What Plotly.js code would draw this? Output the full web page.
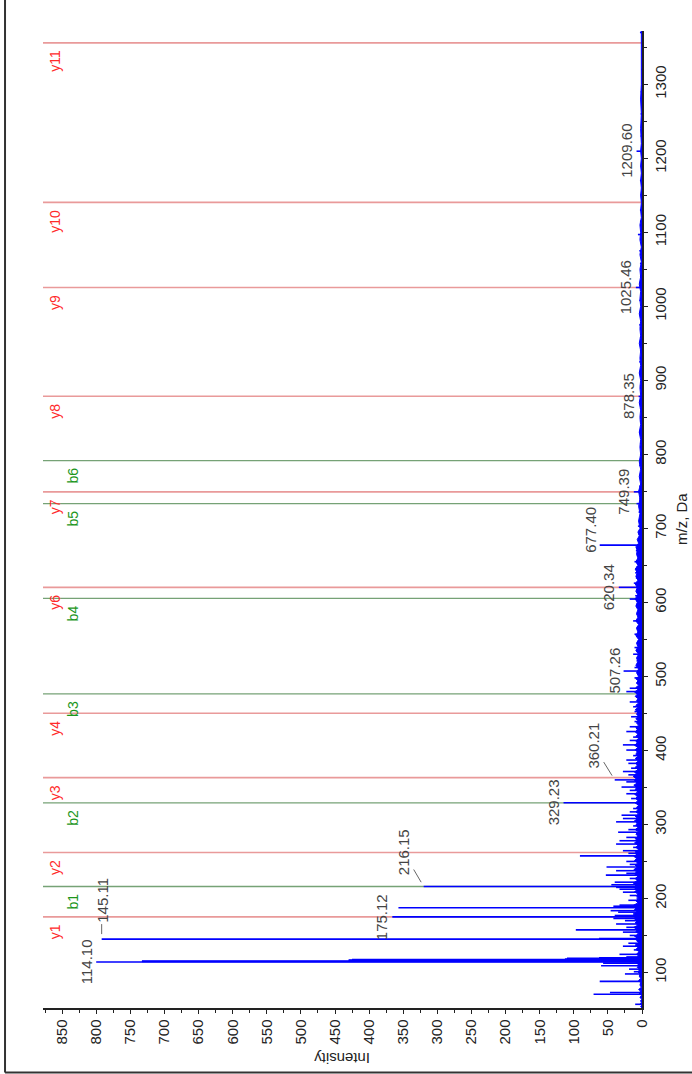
<!DOCTYPE html>
<html><head><meta charset="utf-8">
<script src="https://cdn.plot.ly/plotly-3.0.1.min.js"></script>
<style>html,body{margin:0;padding:0;background:#fff}#chart{width:692px;height:1074px}</style>
</head><body><div id="chart"></div>
<script>
// ---- data ----
const peakMz = [57, 70.5, 73, 88, 98, 101, 104.5, 109, 112.6, 114.10, 114.8, 115.5, 116.2, 116.9, 117.6, 118.3, 119, 119.8, 121, 124.5, 130.5, 135.5, 139.5, 145.11, 146.0, 150, 154.5, 157.5, 161, 165.5, 170, 173, 175.12, 177, 181.5, 183.5, 187.5, 189.5, 191, 197.5, 200.5, 204, 208.5, 212.5, 215, 216.15, 218.5, 222, 227, 231.5, 234, 237.5, 242.5, 246, 250, 257.5, 261, 264.5, 269, 273.5, 278, 282.5, 289.5, 293, 298, 303.5, 308, 312.5, 317, 321.5, 329.23, 335, 341.5, 346, 350.5, 357.5, 360.21, 367, 371.5, 376, 382.5, 387, 393, 400.5, 407.5, 413.5, 418, 425.5, 432, 439, 445.5, 452.5, 459, 465.5, 472, 479.5, 484, 491, 498, 507.26, 512, 521, 530, 539, 548, 557, 566, 575, 584, 593, 604.5, 609, 620.34, 626, 633, 640, 648, 655, 663, 670, 677.40, 684, 692, 703, 712, 722, 733.4, 740, 749.39, 757, 770, 785, 800, 815, 830, 845, 862, 878.35, 893, 910, 925, 940, 958, 975, 990, 1008, 1025.46, 1040, 1058, 1075, 1097, 1115, 1130, 1150, 1170, 1190, 1209.60, 1230, 1260, 1290, 1320, 1370];
const peakInt = [10, 71, 47, 62, 25, 12, 19, 60, 57, 800, 733, 733, 430, 430, 425, 113, 110, 63, 23, 33, 12, 28, 20, 792, 63, 18, 28, 97, 23, 38, 25, 42, 366, 40, 35, 46, 357, 42, 33, 20, 8, 18, 28, 33, 38, 320, 45, 40, 18, 53, 23, 38, 52, 18, 23, 91, 20, 28, 13, 38, 33, 23, 35, 20, 13, 38, 28, 30, 18, 13, 115, 16, 23, 18, 30, 23, 40, 20, 28, 16, 20, 23, 13, 23, 28, 18, 13, 23, 18, 11, 16, 11, 13, 18, 8, 23, 18, 8, 11, 27, 11, 8, 13, 11, 6, 11, 8, 13, 8, 6, 18, 10, 34, 12, 9, 10, 8, 11, 7, 9, 62, 6, 5, 6, 4, 5, 8, 4, 12, 4, 3, 4, 3, 3, 4, 3, 3, 5, 3, 3, 4, 3, 3, 4, 3, 4, 9, 3, 3, 4, 6, 3, 3, 2, 3, 2, 8, 2, 2, 2, 1, 3];

const noiseMz = [52, 54, 56, 57, 59, 62, 64, 66, 69, 72, 75, 77, 80, 83, 86, 89, 92, 95, 98, 101, 104, 107, 110, 113, 116, 119, 122, 125, 128, 131, 134, 137, 140, 143, 146, 149, 152, 155, 158, 161, 164, 167, 170, 173, 176, 179, 182, 185, 188, 191, 194, 197, 200, 203, 206, 209, 212, 215, 218, 221, 224, 227, 230, 233, 236, 239, 242, 245, 248, 251, 254, 257, 260, 263, 266, 269, 272, 275, 278, 281, 284, 287, 290, 293, 296, 299, 302, 305, 308, 311, 314, 317, 320, 323, 326, 329, 332, 335, 338, 341, 344, 347, 350, 353, 356, 359, 362, 365, 368, 371, 374, 377, 380, 383, 386, 389, 392, 395, 398, 401, 404, 407, 410, 413, 416, 419, 422, 425, 428, 431, 434, 437, 440, 443, 446, 449, 452, 455, 458, 461, 464, 467, 470, 473, 476, 479, 482, 485, 488, 491, 494, 497, 500, 505, 510, 515, 520, 525, 530, 535, 540, 545, 550, 555, 560, 565, 570, 575, 580, 585, 590, 595, 600, 605, 610, 615, 620, 625, 630, 635, 640, 645, 650, 655, 660, 665, 670, 675, 680, 685, 690, 695, 700, 710, 720, 730, 740, 750, 760, 770, 780, 790, 800, 810, 820, 830, 840, 850, 860, 870, 880, 890, 900, 910, 920, 930, 940, 950, 960, 970, 980, 990, 1000, 1010, 1020, 1030, 1040, 1050, 1060, 1070, 1080, 1090, 1100, 1110, 1120, 1130, 1140, 1150, 1160, 1170, 1180, 1190, 1200, 1210, 1220, 1240, 1260, 1280, 1300, 1320, 1340, 1360, 1372];
const noiseInt = [0, 2, 0, 3, 1, 2, 0, 3, 1, 4, 2, 5, 1, 3, 2, 5, 2, 4, 3, 6, 3, 7, 4, 9, 6, 10, 5, 8, 4, 9, 6, 10, 5, 8, 6, 11, 5, 9, 7, 12, 6, 10, 7, 12, 8, 13, 7, 11, 8, 12, 6, 9, 4, 8, 6, 11, 7, 12, 9, 13, 7, 10, 6, 11, 8, 12, 7, 10, 6, 11, 8, 12, 7, 10, 5, 9, 6, 11, 7, 10, 6, 9, 5, 10, 6, 9, 7, 11, 6, 10, 5, 9, 6, 8, 5, 10, 6, 9, 7, 11, 6, 10, 8, 12, 7, 11, 9, 13, 8, 11, 6, 10, 7, 9, 5, 10, 6, 9, 7, 10, 6, 11, 7, 9, 5, 9, 6, 10, 7, 9, 5, 8, 6, 9, 5, 8, 6, 10, 6, 9, 5, 8, 6, 10, 7, 11, 6, 9, 5, 8, 6, 9, 5, 8, 5, 9, 6, 8, 5, 9, 6, 8, 5, 9, 6, 8, 5, 9, 6, 8, 6, 9, 7, 10, 6, 9, 7, 10, 6, 9, 7, 10, 6, 9, 6, 8, 7, 9, 5, 7, 4, 6, 3, 5, 3, 5, 3, 5, 2, 4, 2, 4, 2, 3, 2, 4, 2, 3, 2, 4, 2, 3, 2, 4, 2, 3, 2, 4, 2, 3, 2, 4, 2, 3, 2, 4, 2, 3, 1, 3, 1, 3, 2, 3, 1, 2, 1, 2, 1, 2, 1, 2, 1, 2, 1, 2, 1, 2, 1, 1, 1, 1, 1];

const labelMz = [114.10, 145.11, 175.12, 216.15, 329.23, 360.21, 507.26, 620.34, 677.40, 749.39, 878.35, 1025.46, 1209.60];

const yIonNames = ['y1', 'y2', 'y3', 'y4', 'y6', 'y7', 'y8', 'y9', 'y10', 'y11'];
const yIonMz = [175.12, 262.15, 363.2, 450.2, 620.34, 749.38, 878.42, 1025.49, 1140.52, 1356];
const bIonNames = ['b1', 'b2', 'b3', 'b4', 'b5', 'b6'];
const bIonMz = [216.15, 329.23, 476.3, 605.34, 733.4, 791.5];

// ---- build ----
const sx = [], sy = [];
peakMz.forEach((m, i) => { sx.push(0, peakInt[i], null); sy.push(m, m, null); });

const BLUE = '#0000ff';
const traces = [
  {type: 'scatter', mode: 'lines', x: noiseInt, y: noiseMz, fill: 'tozerox',
   fillcolor: BLUE, line: {color: BLUE, width: 1}, hoverinfo: 'skip'},
  {type: 'scatter', mode: 'lines', x: sx, y: sy, connectgaps: false,
   line: {color: BLUE, width: 1.6}, hoverinfo: 'skip'}
];

const shapes = [];
yIonMz.forEach(m => shapes.push({type: 'line', xref: 'paper', yref: 'y', x0: 0, x1: 1, y0: m, y1: m,
  layer: 'below', line: {color: '#e99a9a', width: 1.6}}));
bIonMz.forEach(m => shapes.push({type: 'line', xref: 'paper', yref: 'y', x0: 0, x1: 1, y0: m, y1: m,
  layer: 'below', line: {color: '#76a276', width: 1.3}}));
// outer frame (left + bottom)
shapes.push({type: 'line', xref: 'paper', yref: 'paper', x0: -0.0634, x1: -0.0634, y0: -0.066, y1: 1.04,
  line: {color: '#333', width: 2}});
shapes.push({type: 'line', xref: 'paper', yref: 'paper', x0: -0.0634, x1: 1.1, y0: -0.066, y1: -0.066,
  line: {color: '#333', width: 2}});

const annotations = [];
const FONT = 'Arial, Liberation Sans, sans-serif';
const special = {
  '145.11': {showarrow: true, ax: 0, ay: -39},
  '216.15': {showarrow: true, ax: -20, ay: -34},
  '360.21': {showarrow: true, ax: -21, ay: -34},
  '677.40': {yshift: 15}
};
labelMz.forEach(m => {
  const idx = peakMz.indexOf(m);
  const txt = m.toFixed(2);
  const a = {x: peakInt[idx], y: m, xref: 'x', yref: 'y', text: txt, textangle: -90,
    showarrow: false, xanchor: 'center', yanchor: 'middle', xshift: -10,
    font: {family: FONT, size: 15, color: '#444'}};
  const sp = special[txt];
  if (sp) {
    if (sp.showarrow) {
      Object.assign(a, {showarrow: true, ax: sp.ax, ay: sp.ay, xshift: 0, arrowhead: 0,
        arrowwidth: 1, arrowcolor: '#666', standoff: 5});
    } else {
      a.yshift = sp.yshift;
    }
  }
  annotations.push(a);
});
yIonMz.forEach((m, i) => annotations.push({x: 0.02, xref: 'paper', y: m, yref: 'y', text: yIonNames[i],
  textangle: -90, showarrow: false, xanchor: 'center', yanchor: 'top', yshift: -5,
  font: {family: FONT, size: 14, color: '#ff2a2a'}}));
bIonMz.forEach((m, i) => annotations.push({x: 0.05, xref: 'paper', y: m, yref: 'y', text: bIonNames[i],
  textangle: -90, showarrow: false, xanchor: 'center', yanchor: 'top', yshift: -5,
  font: {family: FONT, size: 14, color: '#1c961c'}}));
// axis titles
annotations.push({x: 0.5, xref: 'paper', y: -0.051, yref: 'paper', text: 'Intensity', textangle: 180,
  showarrow: false, xanchor: 'center', yanchor: 'middle', font: {family: FONT, size: 15, color: '#222'}});
annotations.push({x: 1.066, xref: 'paper', y: 0.5, yref: 'paper', text: 'm/z, Da', textangle: -90,
  showarrow: false, xanchor: 'center', yanchor: 'middle', font: {family: FONT, size: 15, color: '#222'}});

const layout = {
  width: 692, height: 1074,
  margin: {l: 43, r: 50, t: 31, b: 66},
  paper_bgcolor: '#fff', plot_bgcolor: '#fff',
  showlegend: false,
  font: {family: FONT, size: 15, color: '#222'},
  xaxis: {range: [878, 0], showgrid: false, zeroline: false, showline: true, linecolor: '#222', linewidth: 1.5,
    ticks: 'outside', ticklen: 4, tickwidth: 1, tickcolor: '#222', dtick: 50, tick0: 0, tickangle: -90,
    tickfont: {family: FONT, size: 15, color: '#222'},
    minor: {dtick: 25, ticks: 'outside', ticklen: 3, tickcolor: '#222', showgrid: false}},
  yaxis: {range: [52, 1372], side: 'right', showgrid: false, zeroline: false, showline: true, linecolor: '#222',
    linewidth: 1.5, ticks: 'outside', ticklen: 4, tickwidth: 1, tickcolor: '#222', dtick: 100, tick0: 0,
    tickangle: -90, tickfont: {family: FONT, size: 15, color: '#222'},
    minor: {dtick: 50, ticks: 'outside', ticklen: 3, tickcolor: '#222', showgrid: false}},
  shapes: shapes,
  annotations: annotations
};

Plotly.newPlot('chart', traces, layout, {displayModeBar: false, staticPlot: true});
</script>
</body></html>
